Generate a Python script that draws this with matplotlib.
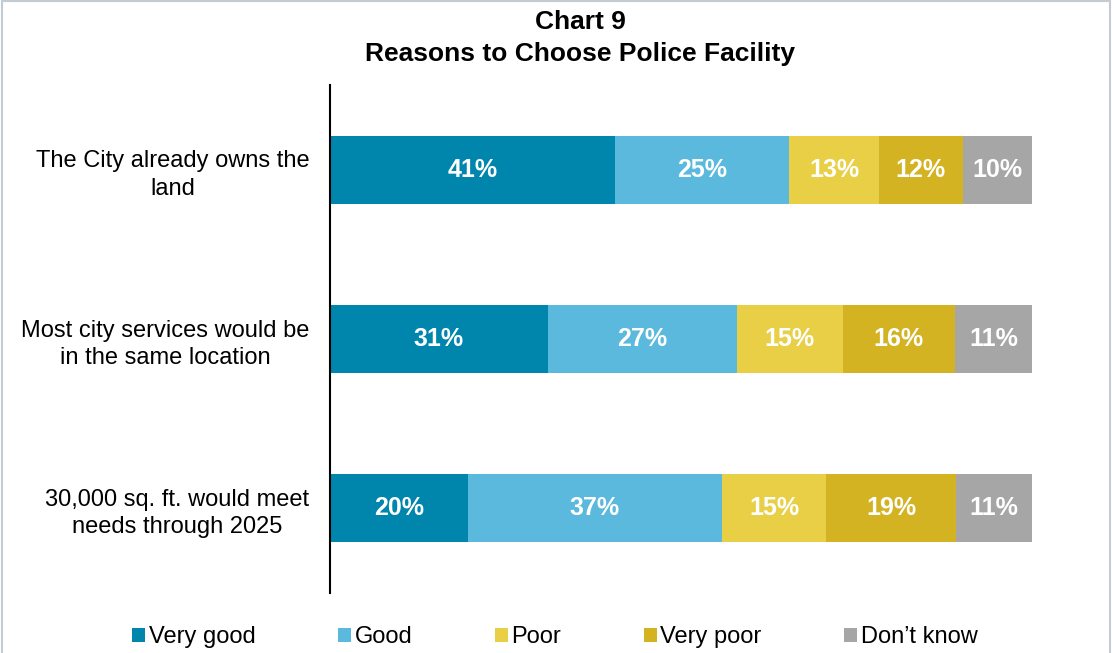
import matplotlib
matplotlib.use("Agg")
import matplotlib.pyplot as plt
import numpy as np
from matplotlib.patches import Patch, Rectangle

plt.rcParams["font.family"] = ["Liberation Sans", "DejaVu Sans"]

reasons = [
    "The City already owns the\nland",
    "Most city services would be\nin the same location",
    "30,000 sq. ft. would meet\nneeds through 2025",
]
ratings = ["Very good", "Good", "Poor", "Very poor", "Don\u2019t know"]
very_good = [41, 31, 20]
good = [25, 27, 37]
poor = [13, 15, 15]
very_poor = [12, 16, 19]
dont_know = [10, 11, 11]

colors = ["#0085AC", "#5BB9DD", "#E8CF46", "#D4B323", "#A6A6A6"]

series = np.array([very_good, good, poor, very_poor, dont_know], dtype=float)
# rows are shown as 100% stacked bars (rounded labels may not sum to 100)
shares = series / series.sum(axis=0) * 100

fig = plt.figure(figsize=(11.12, 6.53), dpi=100)
ax = fig.add_axes([0.2968, 0.0919, 0.6313, 0.7779])

y = np.arange(len(reasons))
left = np.zeros(len(reasons))
for i, name in enumerate(ratings):
    ax.barh(y, shares[i], left=left, height=0.40, color=colors[i], label=name)
    for j in range(len(reasons)):
        ax.text(left[j] + shares[i][j] / 2, y[j], f"{int(series[i][j])}%",
                ha="center", va="center", color="white",
                fontsize=18, fontweight="bold")
    left += shares[i]

ax.set_xlim(0, 100)
ax.set_ylim(len(reasons) - 0.5, -0.5)
ax.set_yticks(y, reasons, fontsize=17)
for t in ax.get_yticklabels():
    t.set_multialignment("center")
    t.set_linespacing(1.32)
ax.tick_params(axis="y", length=0, pad=15)
ax.set_xticks([])
for side in ["top", "right", "bottom"]:
    ax.spines[side].set_visible(False)
ax.spines["left"].set_linewidth(1.5)

fig.text(0.522, 0.966, "Chart 9", ha="center", va="center",
         fontsize=19, fontweight="bold")
fig.text(0.522, 0.918, "Reasons to Choose Police Facility", ha="center",
         va="center", fontsize=19, fontweight="bold")

handles = [Patch(facecolor=c, edgecolor="none") for c in colors]
fig.legend(handles, ratings, loc="center", bbox_to_anchor=(0.499, 0.024),
           ncol=5, frameon=False, handlelength=0.55, handleheight=0.55,
           handletextpad=0.15, columnspacing=3.5, prop={"size": 17})

# thin outer frame
fig.patches.append(Rectangle((0.002, -0.01), 0.996, 1.008, transform=fig.transFigure,
                             fill=False, edgecolor="#C3CCD4", linewidth=1.5))

fig.savefig("out.png", dpi=100)
